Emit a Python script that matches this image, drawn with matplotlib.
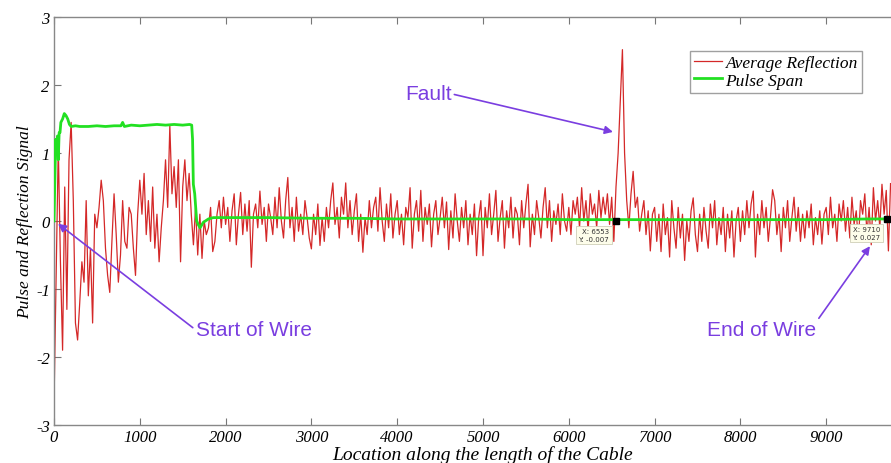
import numpy as np
import matplotlib
matplotlib.use("Agg")
import matplotlib.pyplot as plt

plt.rcParams["axes.unicode_minus"] = False

# ---------------- data ----------------
STEP = 25  # spacing of the reflection samples along the cable

refl_0k = [-2.7, -0.8, 1.1, -0.6, -1.9, 0.5, -1.3, 0.9, 1.45, 0.3,
           -1.5, -1.75, -1.2, -0.6, -0.9, 0.3, -1.1, -0.4, -1.5, 0.1,
           -0.1, 0.2, 0.6, 0.3, -0.4, -0.8, -1.05, -0.3, 0.4, -0.2,
           -0.9, -0.5, 0.3, -0.3, -0.4, 0.2, 0.1, -0.4, -0.8, 0.1]
refl_1k = [0.6, 0.1, 0.7, -0.2, 0.3, -0.3, 0.5, -0.4, 0.1, -0.6,
           -0.1, 0.3, 0.9, 0.2, 1.4, 0.4, 0.8, 0.2, 0.9, -0.6,
           0.5, 0.9, 0.3, 0.7, 0.1, -0.35, 0.2, -0.5, 0.1, -0.55,
           0.0, -0.2, -0.1, 0.2, -0.45, -0.3, 0.1, 0.3, -0.1, 0.35]
refl_2k = [-0.05, 0.2, -0.3, 0.15, 0.4, -0.35, 0.1, 0.42, -0.2, 0.25,
           -0.15, 0.3, -0.68, 0.1, 0.25, -0.1, 0.44, -0.05, 0.2, -0.3,
           0.25, 0.05, -0.2, 0.35, -0.1, 0.49, 0.0, -0.25, 0.3, 0.64,
           -0.1, 0.2, -0.3, 0.35, -0.15, 0.1, -0.2, 0.3, 0.05, -0.25]
refl_3k = [-0.41, 0.1, -0.2, 0.25, -0.36, 0.05, -0.3, 0.2, -0.1, 0.3,
           0.56, -0.05, 0.2, -0.25, 0.35, 0.1, 0.56, -0.1, 0.3, -0.2,
           0.15, 0.4, -0.3, 0.1, -0.46, 0.05, -0.2, 0.3, -0.1, 0.2,
           0.35, -0.15, 0.49, 0.0, -0.3, 0.25, -0.1, 0.4, -0.25, 0.1]
refl_4k = [0.3, -0.2, 0.1, -0.35, 0.2, 0.05, 0.49, -0.4, 0.1, 0.3,
           -0.15, 0.45, -0.3, 0.2, -0.05, 0.25, -0.38, 0.1, 0.3, -0.2,
           0.05, 0.35, -0.1, 0.28, -0.42, 0.15, -0.25, 0.4, 0.0, -0.3,
           0.2, -0.1, 0.3, -0.35, 0.1, -0.2, 0.25, -0.51, 0.05, 0.3]
refl_5k = [-0.51, 0.2, -0.1, 0.4, -0.2, 0.1, 0.45, -0.3, 0.05, 0.3,
           -0.4, 0.15, -0.1, 0.35, -0.25, 0.2, 0.1, -0.35, 0.3, -0.1,
           0.25, 0.54, -0.38, 0.1, -0.2, 0.3, 0.05, -0.25, 0.2, 0.49,
           -0.1, 0.3, -0.3, 0.15, -0.05, 0.25, -0.2, 0.4, 0.0, -0.15]
refl_6k = [0.2, -0.2, 0.3, 0.1, 0.35, -0.1, 0.49, 0.0, 0.3, -0.15,
           0.4, 0.1, 0.25, -0.1, 0.45, 0.05, 0.35, 0.1, 0.4, -0.05,
           0.35, -0.3, 0.5, 1.0, 1.75, 2.52, 1.0, 0.3, -0.1, 0.4,
           0.73, 0.2, 0.35, -0.15, 0.1, 0.3, -0.2, 0.15, -0.44, 0.1]
refl_7k = [0.2, -0.3, 0.1, -0.45, 0.25, -0.2, 0.05, -0.53, 0.3, -0.1,
           -0.4, 0.2, -0.25, 0.1, -0.58, 0.0, -0.3, 0.15, 0.34, -0.2,
           -0.45, 0.1, -0.3, 0.2, -0.15, -0.4, 0.25, -0.1, 0.3, -0.35,
           0.05, -0.2, 0.2, -0.45, 0.1, -0.25, 0.15, -0.53, 0.0, 0.2]
refl_8k = [-0.3, 0.15, -0.2, 0.3, -0.1, 0.25, 0.44, -0.53, 0.1, -0.2,
           0.3, -0.1, 0.2, -0.3, 0.05, 0.46, 0.3, -0.2, 0.1, -0.45,
           0.2, -0.1, 0.3, -0.3, 0.05, 0.35, -0.15, 0.2, -0.3, 0.1,
           -0.25, 0.15, -0.1, 0.25, -0.35, 0.05, -0.2, 0.15, -0.34, 0.1]
refl_9k = [0.2, -0.2, 0.35, -0.1, 0.1, -0.3, 0.25, 0.0, 0.3, -0.15,
           0.2, -0.25, 0.35, -0.05, 0.15, -0.3, 0.3, 0.1, 0.4, -0.2,
           0.2, -0.35, 0.49, 0.0, 0.3, -0.1, 0.54, 0.1, 0.45, -0.44, 0.55]

pulse_x = [0, 10, 20, 30, 40, 50, 60, 70, 80, 100, 120, 140, 160, 180, 200,
           250, 300, 400, 500, 600, 700, 780, 800, 820, 900, 1000, 1100, 1200,
           1300, 1400, 1500, 1580, 1605, 1615, 1624, 1640, 1663, 1680, 1702,
           1740, 1800, 1857, 2000, 2500, 3000, 3500, 4000, 4500, 5000, 5500,
           6000, 6500, 7000, 7500, 8000, 8500, 9000, 9500, 9750]
pulse_y = [0.0, 0.6, 1.2, 1.0, 1.25, 0.9, 1.3, 1.3, 1.45, 1.5, 1.58, 1.55,
           1.5, 1.42, 1.39, 1.4, 1.39, 1.39, 1.4, 1.39, 1.4, 1.4, 1.45, 1.39,
           1.41, 1.4, 1.41, 1.42, 1.41, 1.42, 1.41, 1.42, 1.41, 1.2, 0.54,
           0.4, 0.0, -0.05, -0.1, -0.02, 0.03, 0.05, 0.05, 0.05, 0.04, 0.04,
           0.03, 0.03, 0.03, 0.03, 0.02, 0.02, 0.02, 0.02, 0.02, 0.02, 0.02,
           0.03, 0.03]

tips = [(6553, -0.007), (9710, 0.027)]
x_ticks = [0, 1000, 2000, 3000, 4000, 5000, 6000, 7000, 8000, 9000]
y_ticks = [-3, -2, -1, 0, 1, 2, 3]

# ---------------- figure ----------------
refl = np.array(refl_0k + refl_1k + refl_2k + refl_3k + refl_4k +
                refl_5k + refl_6k + refl_7k + refl_8k + refl_9k)
refl_x = np.arange(len(refl)) * STEP

fig = plt.figure(figsize=(8.91, 4.64), dpi=100)
ax = fig.add_axes([54 / 891, 38 / 464, 858 / 891, 408 / 464])

serif = "Liberation Serif"
purple = "#7a3ee0"

ax.plot(refl_x, refl, color="#d42828", lw=0.9, label="Average Reflection", zorder=2)
ax.plot(pulse_x, pulse_y, color="#22e022", lw=2.0, label="Pulse Span", zorder=3)

ax.set_xlim(0, 10000)
ax.set_ylim(-3, 3)
ax.set_xticks(x_ticks)
ax.set_yticks(y_ticks)
ax.tick_params(direction="in", length=5, top=True, right=False,
               color="#777777", labelsize=12, pad=3)
for lab in ax.get_xticklabels() + ax.get_yticklabels():
    lab.set_fontfamily(serif)
    lab.set_fontstyle("italic")
for s in ax.spines.values():
    s.set_color("#888888")
    s.set_linewidth(1.0)

ax.set_xlabel("Location along the length of the Cable", fontfamily=serif,
              fontstyle="italic", fontsize=14, labelpad=0)
ax.set_ylabel("Pulse and Reflection Signal", fontfamily=serif,
              fontstyle="italic", fontsize=12.5, labelpad=2)

leg = ax.legend(loc="upper left", bbox_to_anchor=(636 / 858, 1 - 34 / 408),
                prop={"family": serif, "style": "italic", "size": 12.5},
                frameon=True, fancybox=False, handlelength=1.6,
                handletextpad=0.2, borderpad=0.25, labelspacing=0.05,
                borderaxespad=0)
leg.get_frame().set_edgecolor("#888888")
leg.get_frame().set_linewidth(1.0)

# annotations
arrow = dict(arrowstyle="-|>", color=purple, lw=1.2, mutation_scale=12,
             shrinkA=0, shrinkB=0)
ax.annotate("Start of Wire", xy=(47, -0.04), xytext=(1650, -1.6),
            fontsize=15, fontfamily="Liberation Sans", color=purple,
            ha="left", va="center", arrowprops=dict(arrow, relpos=(0, 0.5)))
ax.annotate("Fault", xy=(6515, 1.31), xytext=(4090, 1.87),
            fontsize=15, fontfamily="Liberation Sans", color=purple,
            ha="left", va="center", arrowprops=dict(arrow, relpos=(1, 0.5)))
ax.annotate("End of Wire", xy=(9510, -0.37), xytext=(7610, -1.6),
            fontsize=15, fontfamily="Liberation Sans", color=purple,
            ha="left", va="center", arrowprops=dict(arrow, relpos=(1, 0.9)))

# data tips
for tx, ty in tips:
    ax.plot([tx], [ty], marker="s", color="black", markersize=4, zorder=5)
    ax.annotate(f"X: {tx}\nY: {ty:.3f}", xy=(tx, ty), xytext=(-5, -5),
                textcoords="offset points", ha="right", va="top",
                fontsize=5, fontfamily="DejaVu Sans", color="#333333",
                linespacing=1.3, zorder=6,
                bbox=dict(boxstyle="square,pad=0.35", fc="#fdfdea",
                          ec="#cfcfb8", lw=0.6))

fig.savefig("out.png", dpi=100)
